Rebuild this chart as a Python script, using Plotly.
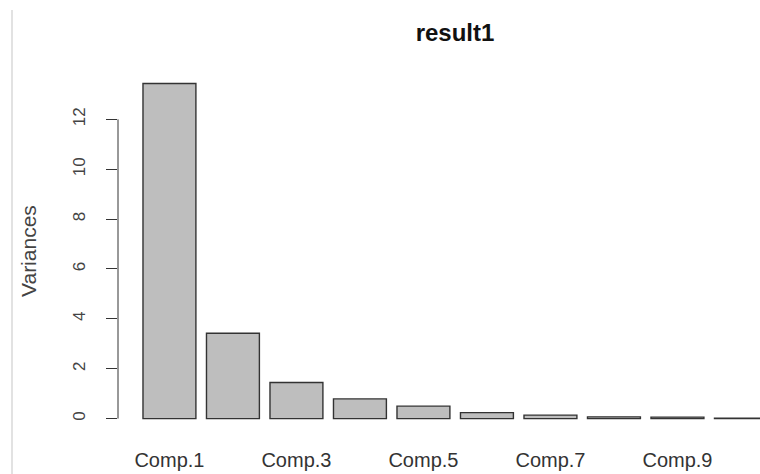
import plotly.graph_objects as go

# Variances of the principal components (screeplot of result1)
components = ["Comp.1", "Comp.2", "Comp.3", "Comp.4", "Comp.5",
              "Comp.6", "Comp.7", "Comp.8", "Comp.9", "Comp.10"]
variances = [13.44, 3.42, 1.45, 0.79, 0.50, 0.24, 0.14, 0.07, 0.06, 0.02]
labelled_components = ["Comp.1", "Comp.3", "Comp.5", "Comp.7", "Comp.9"]
y_ticks = [0, 2, 4, 6, 8, 10, 12]

WIDTH, HEIGHT = 760, 474
M_L, M_R, M_T, M_B = 118, 0, 70, 42
PLOT_W = WIDTH - M_L - M_R
PLOT_H = HEIGHT - M_T - M_B

FONT = "Liberation Sans, Arial, sans-serif"

fig = go.Figure(
    go.Bar(
        x=components,
        y=variances,
        marker=dict(color="#bebebe", line=dict(color="#333333", width=1.4)),
        hoverinfo="x+y",
    )
)

fig.update_layout(
    width=WIDTH,
    height=HEIGHT,
    margin=dict(l=M_L, r=M_R, t=M_T, b=M_B, pad=0),
    paper_bgcolor="white",
    plot_bgcolor="white",
    bargap=1 - 1 / 1.2,
    showlegend=False,
    title=dict(
        text="<b>result1</b>",
        x=455 / WIDTH,
        xanchor="center",
        xref="container",
        y=1 - 33 / HEIGHT,
        yanchor="middle",
        font=dict(family=FONT, size=24, color="#111111"),
    ),
    font=dict(family=FONT),
)

fig.update_xaxes(
    type="category",
    range=[-0.81, 9.30],
    tickmode="array",
    tickvals=labelled_components,
    ticktext=labelled_components,
    ticks="",
    showline=False,
    showgrid=False,
    zeroline=False,
    tickfont=dict(family=FONT, size=20, color="#333333"),
    ticklabelstandoff=14,
)

fig.update_yaxes(
    range=[-0.5376, 13.98],
    tickmode="array",
    tickvals=y_ticks,
    ticktext=[str(v) for v in y_ticks],
    tickangle=-90,
    ticks="outside",
    ticklen=11,
    tickwidth=1,
    tickcolor="#333333",
    showline=False,
    showgrid=False,
    zeroline=False,
    tickfont=dict(family=FONT, size=17, color="#444444"),
    ticklabelstandoff=14,
)

# y axis line spanning only the labelled tick range
fig.add_shape(
    type="line", xref="paper", yref="y",
    x0=0, x1=0, y0=y_ticks[0], y1=y_ticks[-1],
    line=dict(color="#333333", width=1),
)

# thin frame line at the left edge of the page
edge_x = (12 - M_L) / PLOT_W
fig.add_shape(
    type="line", xref="paper", yref="paper",
    x0=edge_x, x1=edge_x,
    y0=-M_B / PLOT_H, y1=(HEIGHT - M_B - 10) / PLOT_H,
    line=dict(color="#d8d8d8", width=1.5),
)

# y axis title
fig.add_annotation(
    text="Variances",
    xref="paper", yref="paper",
    x=(28 - M_L) / PLOT_W, y=0.5,
    xanchor="center", yanchor="middle",
    textangle=-90,
    showarrow=False,
    font=dict(family=FONT, size=21, color="#444444"),
)

fig.write_html("out.html", config={"displayModeBar": False})
